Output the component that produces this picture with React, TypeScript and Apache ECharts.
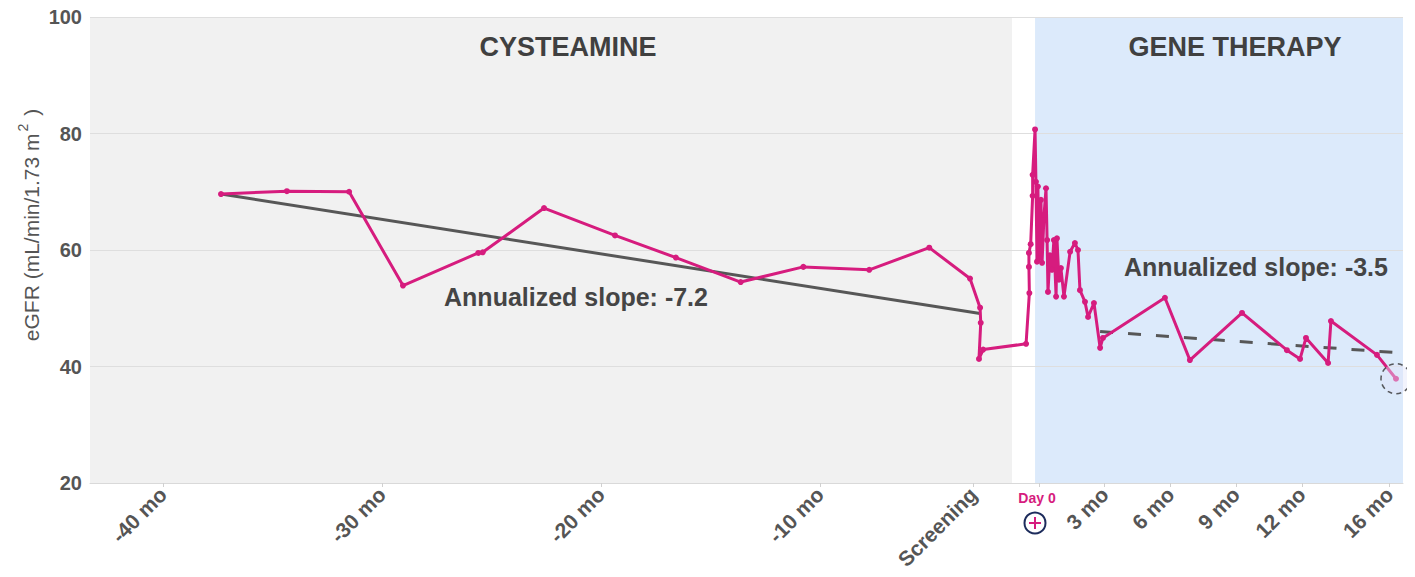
import React, { useEffect, useRef } from "react";
import * as echarts from "echarts";

// months relative to gene therapy (Day 0)
const months = [
  -37.35, -34.34, -31.5, -29.04, -25.6, -25.4, -22.6, -19.36, -16.58, -13.62,
  -10.76, -7.75, -5.01, -3.15, -2.69, -2.66, -2.74, -2.55, -0.59,
  -0.44, -0.46, -0.46, -0.38, -0.29, -0.29, -0.18,
  -0.14, -0.09, -0.05, 0, 0.09, 0.14, 0.23, 0.32, 0.37, 0.41,
  0.5, 0.59, 0.68, 0.78, 0.82, 0.91, 1.0, 1.14, 1.42, 1.64,
  1.78, 1.87, 2.1, 2.24, 2.51, 2.79, 2.92, 5.75, 6.89, 9.27,
  11.32, 11.92, 12.19, 13.2, 13.33, 15.43, 16.3,
];
const egfr = [
  69.6, 70.1, 70.0, 53.9, 59.5, 59.6, 67.2, 62.5, 58.7, 54.5,
  57.1, 56.6, 60.4, 55.1, 50.1, 47.5, 41.3, 42.9, 43.9,
  52.6, 57.1, 59.5, 61.0, 69.3, 72.9, 80.7,
  71.7, 58.0, 70.9, 58.6, 68.6, 57.8, 66.0, 70.6, 61.7, 52.8,
  59.1, 56.6, 61.7, 52.0, 62.0, 54.9, 56.9, 52.0, 59.7, 61.2,
  60.0, 53.1, 51.1, 48.5, 50.9, 43.2, 44.9, 51.8, 41.1, 49.2,
  42.8, 41.3, 44.9, 40.6, 47.8, 42.0, 37.9,
];

const preTrendMonths = [-37.35, -2.69];
const preTrendValues = [69.6, 49.1];
const postTrendMonths = [2.79, 16.62];
const postTrendValues = [46.0, 42.3];

const tickMonths = [-40, -30, -20, -10, -3, 3, 6, 9, 12, 16];
const tickLabels = ["-40 mo", "-30 mo", "-20 mo", "-10 mo", "Screening", "3 mo", "6 mo", "9 mo", "12 mo", "16 mo"];
const dayZero = 0;

const periodStarts = [-43.33, -0.18];
const periodEnds = [-1.23, 16.62];
const periodNames = ["CYSTEAMINE", "GENE THERAPY"];
const periodColors = ["#f1f1f1", "#dceafb"];
const slopeLabels = ["Annualized slope: -7.2", "Annualized slope: -3.5"];

const xMin = -43.33;
const xMax = 16.62;
const yMin = 20;
const yMax = 100;
const yStep = 20;

const FONT = "'Liberation Sans', Arial, Helvetica, sans-serif";
const MAGENTA = "#d61c7e";

export default function App() {
  const ref = useRef<HTMLDivElement>(null);

  useEffect(() => {
    if (!ref.current) return;
    const chart = echarts.init(ref.current, undefined, { renderer: "svg" });

    const periodData = periodStarts.map((s, i) => [s, periodEnds[i], yMin, yMax]);

    chart.setOption({
      animation: false,
      grid: { left: 90, right: 12, top: 17, bottom: 94, containLabel: false },
      xAxis: {
        type: "value",
        min: xMin,
        max: xMax,
        splitLine: { show: false },
        axisLine: { show: true, lineStyle: { color: "#d9d9d9", width: 1 } },
        axisTick: {
          show: true,
          length: 4,
          lineStyle: { color: "#d0d0d0" },
          customValues: [...tickMonths, dayZero],
        },
        axisLabel: {
          customValues: tickMonths,
          rotate: 45,
          margin: 8,
          color: "#555",
          fontWeight: "bold",
          fontSize: 21,
          fontFamily: FONT,
          formatter: (v: number) => {
            const i = tickMonths.findIndex((t) => Math.abs(t - v) < 1e-6);
            return i >= 0 ? tickLabels[i] : "";
          },
        },
      },
      yAxis: {
        type: "value",
        min: yMin,
        max: yMax,
        interval: yStep,
        axisLine: { show: false },
        axisTick: { show: false },
        splitLine: { show: true, lineStyle: { color: "#dedede", width: 1 } },
        axisLabel: {
          color: "#555",
          fontWeight: "bold",
          fontSize: 20,
          fontFamily: FONT,
          margin: 8,
        },
      },
      series: [
        {
          type: "custom",
          z: -1,
          silent: true,
          clip: true,
          encode: { x: [0, 1], y: [2, 3] },
          data: periodData,
          renderItem: (params: any, api: any) => {
            const p0 = api.coord([api.value(0), api.value(3)]);
            const p1 = api.coord([api.value(1), api.value(2)]);
            return {
              type: "rect",
              shape: { x: p0[0], y: p0[1], width: p1[0] - p0[0], height: p1[1] - p0[1] },
              style: { fill: periodColors[params.dataIndex] },
            };
          },
        },
        {
          type: "line",
          z: 3,
          data: preTrendMonths.map((m, i) => [m, preTrendValues[i]]),
          symbol: "none",
          lineStyle: { color: "#575757", width: 3 },
        },
        {
          type: "line",
          z: 3,
          data: postTrendMonths.map((m, i) => [m, postTrendValues[i]]),
          symbol: "none",
          lineStyle: { color: "#575757", width: 3, type: [13, 15] },
        },
        {
          type: "line",
          z: 4,
          data: months.map((m, i) => [m, egfr[i]]),
          symbol: "circle",
          symbolSize: 6,
          showAllSymbol: true,
          itemStyle: { color: MAGENTA },
          lineStyle: { color: MAGENTA, width: 3 },
        },
        {
          type: "scatter",
          z: 5,
          silent: true,
          data: [[months[months.length - 1], egfr[egfr.length - 1]]],
          symbol: "circle",
          symbolSize: 30,
          itemStyle: {
            color: "rgba(226,228,248,0.55)",
            borderColor: "#333",
            borderWidth: 1.5,
            borderType: [5, 4],
          },
        },
      ],
    });

    const px0 = chart.convertToPixel({ xAxisIndex: 0 }, dayZero) as number;

    chart.setOption({
      graphic: [
        {
          type: "text",
          x: 568,
          y: 47,
          style: {
            text: periodNames[0],
            font: `bold 27px ${FONT}`,
            fill: "#404040",
            align: "center",
            verticalAlign: "middle",
          },
        },
        {
          type: "text",
          x: 1235,
          y: 47,
          style: {
            text: periodNames[1],
            font: `bold 27px ${FONT}`,
            fill: "#404040",
            align: "center",
            verticalAlign: "middle",
          },
        },
        {
          type: "text",
          x: 576,
          y: 297,
          style: {
            text: slopeLabels[0],
            font: `bold 25px ${FONT}`,
            fill: "#454545",
            align: "center",
            verticalAlign: "middle",
          },
        },
        {
          type: "text",
          x: 1256,
          y: 267,
          style: {
            text: slopeLabels[1],
            font: `bold 25px ${FONT}`,
            fill: "#454545",
            align: "center",
            verticalAlign: "middle",
          },
        },
        {
          type: "text",
          x: 29,
          y: 225,
          rotation: Math.PI / 2,
          style: {
            text: "{a|eGFR (mL/min/1.73 m}{s|2}{a| )}",
            align: "center",
            verticalAlign: "middle",
            rich: {
              a: { fontSize: 21, fontFamily: FONT, fill: "#555", color: "#555", lineHeight: 26, verticalAlign: "bottom" },
              s: { fontSize: 14, fontFamily: FONT, fill: "#555", color: "#555", lineHeight: 26, verticalAlign: "top", padding: [0, 2, 0, 2] },
            },
          },
        },
        {
          type: "text",
          x: px0 - 2,
          y: 498,
          style: {
            text: "Day 0",
            font: `bold 14px ${FONT}`,
            fill: MAGENTA,
            align: "center",
            verticalAlign: "middle",
          },
        },
        {
          type: "circle",
          shape: { cx: px0 - 4, cy: 523, r: 10.5 },
          style: { fill: "#ffffff", stroke: "#1d2c5c", lineWidth: 2 },
        },
        {
          type: "line",
          shape: { x1: px0 - 10, y1: 523, x2: px0 + 2, y2: 523 },
          style: { stroke: MAGENTA, lineWidth: 2 },
        },
        {
          type: "line",
          shape: { x1: px0 - 4, y1: 517, x2: px0 - 4, y2: 529 },
          style: { stroke: MAGENTA, lineWidth: 2 },
        },
      ],
    });

    return () => chart.dispose();
  }, []);

  return <div ref={ref} style={{ width: 1415, height: 577, margin: -8 }} />;
}
